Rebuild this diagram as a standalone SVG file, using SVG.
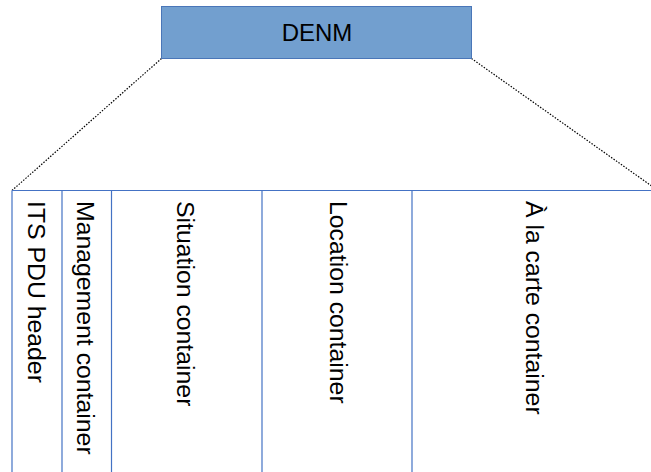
<svg xmlns="http://www.w3.org/2000/svg" width="651" height="472" viewBox="0 0 651 472">
  <style>
    .lbl { font-family: "Liberation Sans", Arial, sans-serif; font-size: 24px; fill: #000; }
    .vlbl { font-size: 24.8px; }
    .col { fill: none; stroke: #4472c4; stroke-width: 1.2; }
    .zoom { fill: none; stroke: #000; stroke-width: 1.2; stroke-dasharray: 1.5 1.5; }
  </style>
  <rect width="651" height="472" fill="#fff"/>

  <!-- dotted expansion lines from the message to its containers -->
  <g id="connectors">
    <line class="zoom" x1="161.5" y1="58.5" x2="12" y2="190.5"/>
    <line class="zoom" x1="471.5" y1="58.5" x2="658" y2="190.5"/>
  </g>

  <g id="denm">
    <rect x="161.5" y="6.5" width="310" height="52" fill="#729fcf" stroke="#4a76b8" stroke-width="1"/>
    <text class="lbl" x="317" y="41" text-anchor="middle">DENM</text>
  </g>

  <!-- container strip -->
  <g id="strip">
    <line class="col" x1="12" y1="190.5" x2="651" y2="190.5"/>
  </g>
  <g id="its-pdu-header">
    <line class="col" x1="12" y1="190.5" x2="12" y2="472"/>
    <text class="lbl vlbl" transform="translate(28,201) rotate(90)">ITS PDU header</text>
  </g>
  <g id="management-container">
    <line class="col" x1="62" y1="190.5" x2="62" y2="472"/>
    <text class="lbl vlbl" transform="translate(77,201) rotate(90)">Management container</text>
  </g>
  <g id="situation-container">
    <line class="col" x1="111.5" y1="190.5" x2="111.5" y2="472"/>
    <text class="lbl vlbl" transform="translate(176.5,201) rotate(90)">Situation container</text>
  </g>
  <g id="location-container">
    <line class="col" x1="262" y1="190.5" x2="262" y2="472"/>
    <text class="lbl vlbl" transform="translate(329.5,201) rotate(90)">Location container</text>
  </g>
  <g id="a-la-carte-container">
    <line class="col" x1="412" y1="190.5" x2="412" y2="472"/>
    <text class="lbl vlbl" transform="translate(525.5,201) rotate(90)">À la carte container</text>
  </g>
</svg>
